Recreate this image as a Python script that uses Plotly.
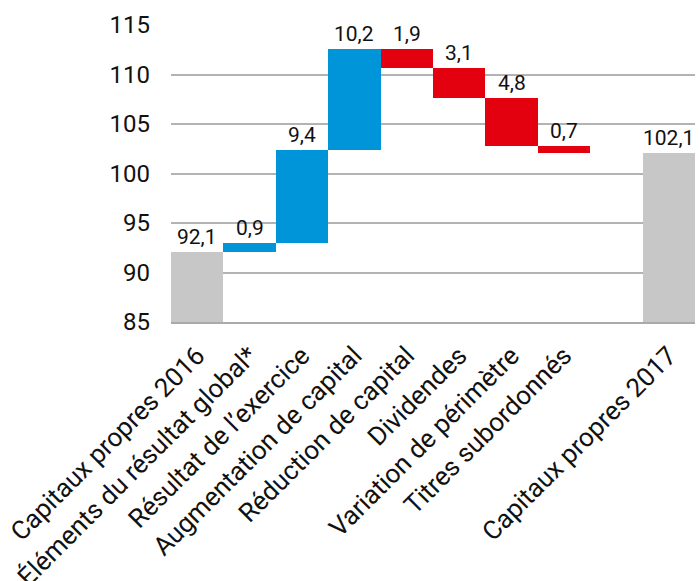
import plotly.graph_objects as go

# Equity bridge 2016 -> 2017 (in billions)
categories = [
    "Capitaux propres 2016",
    "Éléments du résultat global*",
    "Résultat de l’exercice",
    "Augmentation de capital",
    "Réduction de capital",
    "Dividendes",
    "Variation de périmètre",
    "Titres subordonnés",
    "",
    "Capitaux propres 2017",
]
start_value = 92.1
changes = [0.9, 9.4, 10.2, -1.9, -3.1, -4.8, -0.7]
end_value = 102.1

BLUE = "#0095d9"
RED = "#e3000f"
GREY = "#c6c7c6"

xs, bases, heights, colors, tops, labels = [], [], [], [], [], []

# opening total
xs.append(0); bases.append(0); heights.append(start_value); colors.append(GREY)
tops.append(start_value); labels.append(start_value)

level = start_value
for i, ch in enumerate(changes, start=1):
    lo, hi = (level, level + ch) if ch >= 0 else (level + ch, level)
    xs.append(i); bases.append(lo); heights.append(hi - lo)
    colors.append(BLUE if ch >= 0 else RED)
    tops.append(hi); labels.append(abs(ch))
    level += ch

# closing total (slot 8 left empty)
xs.append(9); bases.append(0); heights.append(end_value); colors.append(GREY)
tops.append(end_value); labels.append(end_value)

fig = go.Figure(
    go.Bar(
        x=xs, y=heights, base=bases,
        marker=dict(color=colors, line=dict(width=0)),
        width=1.0,
        hoverinfo="skip",
    )
)

for x, t, v in zip(xs, tops, labels):
    fig.add_annotation(
        x=x, y=t, text=f"{v:.1f}".replace(".", ","),
        showarrow=False, yanchor="bottom", yshift=1,
        font=dict(size=21, color="#111111"),
    )

fig.update_layout(
    width=699, height=581,
    margin=dict(l=171, r=4, t=25, b=259),
    plot_bgcolor="white", paper_bgcolor="white",
    font=dict(family="Roboto, Liberation Sans, sans-serif", color="#111111"),
    showlegend=False,
    bargap=0,
)
fig.update_xaxes(
    range=[-0.5, 9.5],
    tickmode="array", tickvals=list(range(len(categories))), ticktext=categories,
    tickangle=-45, tickfont=dict(size=26),
    showgrid=False, zeroline=False,
    showline=True, linecolor="#aaaaaa", linewidth=2,
    ticks="", ticklabelstandoff=6,
    automargin=False,
)
fig.update_yaxes(
    range=[85, 115], dtick=5, tick0=85,
    tickfont=dict(size=24),
    showgrid=True, gridcolor="#b3b3b3", gridwidth=1.5,
    zeroline=False, showline=False, ticks="",
    ticklabelstandoff=20,
    automargin=False,
)

fig.write_html("out.html")
